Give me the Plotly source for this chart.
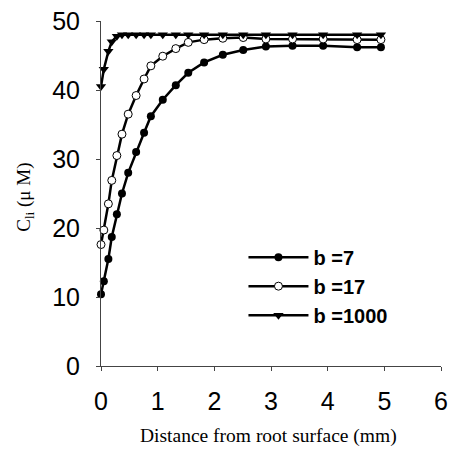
import plotly.graph_objects as go

distance = [0, 0.05, 0.13, 0.19, 0.28, 0.37, 0.48, 0.62, 0.76, 0.88, 1.09,
            1.32, 1.54, 1.82, 2.15, 2.51, 2.91, 3.38, 3.92, 4.52, 4.94]
c_b7 = [10.4, 12.3, 15.5, 18.7, 22.0, 25.0, 28.0, 31.0, 33.8, 36.2, 38.6,
        40.7, 42.5, 44.0, 45.1, 45.8, 46.3, 46.4, 46.4, 46.2, 46.2]
c_b17 = [17.6, 19.7, 23.5, 26.9, 30.5, 33.6, 36.5, 39.2, 41.6, 43.5, 44.9,
         46.0, 46.9, 47.3, 47.5, 47.6, 47.4, 47.4, 47.4, 47.3, 47.3]
c_b1000 = [40.5, 43.0, 45.6, 47.0, 47.8, 48.0, 48.0, 48.0, 48.0, 48.0, 48.0,
           48.0, 48.0, 48.0, 48.0, 48.0, 48.0, 48.0, 48.0, 48.0, 48.0]
series_names = ["b =7", "b =17", "b =1000"]
x_ticks = [0, 1, 2, 3, 4, 5, 6]
y_ticks = [0, 10, 20, 30, 40, 50]

fig = go.Figure()
fig.add_trace(go.Scatter(
    x=distance, y=c_b7, name=series_names[0], mode="lines+markers",
    line=dict(color="black", width=2.5),
    marker=dict(symbol="circle", size=8, color="black"),
    cliponaxis=False))
fig.add_trace(go.Scatter(
    x=distance, y=c_b17, name=series_names[1], mode="lines+markers",
    line=dict(color="black", width=2.5),
    marker=dict(symbol="circle", size=8, color="white",
                line=dict(color="black", width=1)),
    cliponaxis=False))
fig.add_trace(go.Scatter(
    x=distance, y=c_b1000, name=series_names[2], mode="lines+markers",
    line=dict(color="black", width=2.5),
    marker=dict(symbol="triangle-down", size=9, color="black"),
    cliponaxis=False))

fig.update_layout(
    width=451, height=450,
    margin=dict(l=101, r=10, t=21, b=84, autoexpand=False),
    paper_bgcolor="white", plot_bgcolor="white",
    showlegend=True,
    legend=dict(x=0.419, y=0.372, xanchor="left", yanchor="top",
                font=dict(family="Liberation Sans", size=20, color="black",
                          weight="bold"),
                bgcolor="rgba(0,0,0,0)", itemwidth=60,
                tracegroupgap=6),
    xaxis=dict(range=[0, 6], tickvals=x_ticks, showgrid=False,
               zeroline=False, showline=True, linecolor="#444", linewidth=1,
               ticks="outside", ticklen=4, tickcolor="#444",
               automargin=False, ticklabeloverflow="allow",
               ticklabelstandoff=9,
               tickfont=dict(family="Liberation Sans", size=25, color="black")),
    yaxis=dict(range=[0, 50], tickvals=y_ticks, showgrid=False,
               zeroline=False, showline=True, linecolor="#444", linewidth=1,
               ticks="outside", ticklen=4, tickcolor="#444",
               automargin=False, ticklabeloverflow="allow",
               ticklabelstandoff=11,
               tickfont=dict(family="Liberation Sans", size=25, color="black")),
    annotations=[
        dict(text="Distance from root surface (mm)",
             xref="paper", yref="paper", x=(268 - 101) / 340, y=-(436 - 366) / 345,
             xanchor="center", yanchor="middle", showarrow=False,
             font=dict(family="Liberation Serif", size=19.5, color="black")),
        dict(text="C<sub>li</sub> (μ M)", textangle=-90,
             xref="paper", yref="paper", x=-0.224, y=0.49,
             xanchor="center", yanchor="middle", showarrow=False,
             font=dict(family="Liberation Serif", size=19, color="black")),
    ],
)

fig.write_html("out.html",
               config={"displayModeBar": False},
               post_script="document.body.style.margin='0';")
